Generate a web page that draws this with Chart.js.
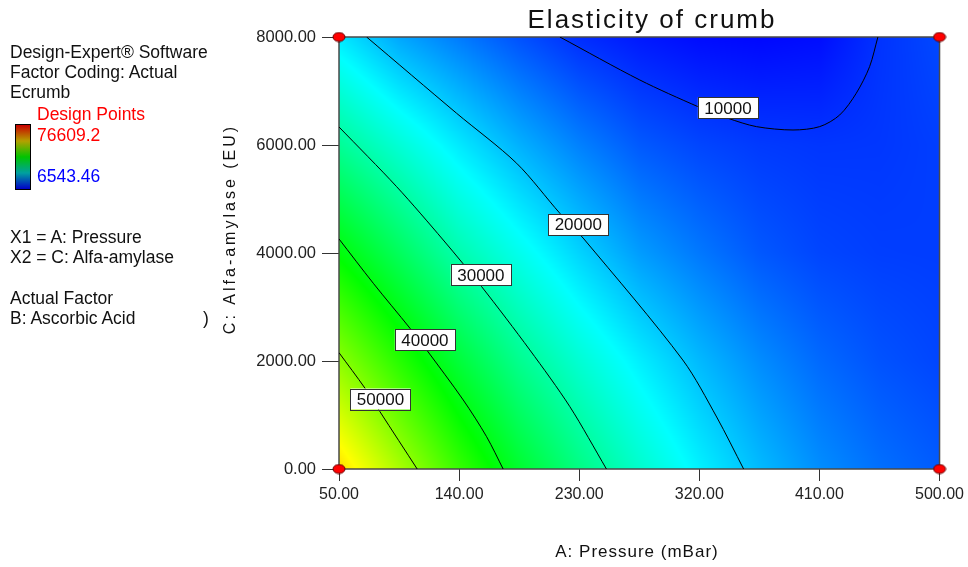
<!DOCTYPE html>
<html>
<head>
<meta charset="utf-8">
<script src="https://cdn.jsdelivr.net/npm/chart.js@4.4.1/dist/chart.umd.min.js"></script>
<style>
  body { margin: 0; background: #fff; }
  #wrap { position: relative; width: 968px; height: 567px; }
  #chart { position: absolute; left: 0; top: 0; }
  .t { position: absolute; font-family: "Liberation Sans", Arial, sans-serif; font-size: 17.5px; line-height: 20px; color: #111; white-space: nowrap; }
  .bar { position: absolute; left: 15px; top: 124px; width: 14px; height: 64px; border: 1px solid #000;
         background: linear-gradient(to bottom, #c80000, #b4a000 25%, #00c400 50%, #00a0a0 75%, #0000c8); }
</style>
</head>
<body>
<div id="wrap">
  <canvas id="chart" width="968" height="567"></canvas>
  <div class="t" style="left:10px;top:42px">Design-Expert® Software</div>
  <div class="t" style="left:10px;top:62px">Factor Coding: Actual</div>
  <div class="t" style="left:10px;top:82px">Ecrumb</div>
  <div class="t" style="left:37px;top:104px;color:#ff0000">Design Points</div>
  <div class="t" style="left:37px;top:125px;color:#ff0000">76609.2</div>
  <div class="t" style="left:37px;top:166px;color:#0000ff">6543.46</div>
  <div class="bar"></div>
  <div class="t" style="left:10px;top:227px">X1 = A: Pressure</div>
  <div class="t" style="left:10px;top:247px">X2 = C: Alfa-amylase</div>
  <div class="t" style="left:10px;top:288px">Actual Factor</div>
  <div class="t" style="left:10px;top:308px">B: Ascorbic Acid</div>
  <div class="t" style="left:203px;top:308px">)</div>
</div>
<script>
const family = '"Liberation Sans", Arial, sans-serif';

// axis ticks
const xTicks = [50, 140, 230, 320, 410, 500];
const yTicks = [0, 2000, 4000, 6000, 8000];

// response surface (Ecrumb at A / C grid nodes)
const gridA = [50, 95, 140, 185, 230, 275, 320, 365, 410, 455, 500];
const gridC = [0, 2000, 4000, 6000, 8000];
const gridE = [
  [61500, 53300, 45300, 38400, 32600, 27600, 23200, 19400, 16300, 14200, 12800],
  [51200, 44200, 37600, 31800, 27100, 23000, 19300, 16200, 13800, 12200, 11300],
  [41000, 35300, 29600, 25300, 21100, 17300, 14800, 12600, 11300, 10800, 10700],
  [31300, 26900, 22600, 18700, 15400, 12700, 11300, 10500, 10200, 10300, 10800],
  [22500, 18000, 15000, 12100,  9600,  8200,  7300,  7000,  7400, 10000, 11500]
];
const eMin = 6543.46;
const eMax = 76609.2;

// contour lines [A, C]
const levels = [10000, 20000, 30000, 40000, 50000];
const line10000 = [[215.5, 8000], [275.4, 7204], [319.0, 6710], [341.5, 6495], [362.8, 6340], [390.2, 6278],
                   [410.2, 6340], [425.2, 6556], [437.6, 6958], [447.6, 7451], [453.8, 8000]];
const line20000 = [[70.7, 8000], [138.1, 6588], [183.1, 5662], [215.5, 4735], [233.5, 4260],
                   [307.6, 2019], [333.0, 963], [353.2, 0]];
const line30000 = [[50, 6334], [93.2, 5228], [128.1, 4241], [156.9, 3376], [193.0, 2204], [223.0, 1154], [250.4, 0]];
const line40000 = [[50, 4260], [75.7, 3439], [103.2, 2606], [115.7, 2204], [143.1, 1278], [160.6, 598], [173.0, 0]];
const line50000 = [[50, 2154], [69.5, 1495], [80.7, 1061], [108.6, 0]];
const lines = [line10000, line20000, line30000, line40000, line50000];

// contour label positions
const labelA = [341.5, 229.3, 156.3, 114.4, 81.1];
const labelC = [6686, 4528, 3593, 2389, 1296];

// design points
const designA = [50, 50, 500, 500];
const designC = [0, 8000, 0, 8000];

const stops = [[0, 0, 0, 255], [0.25, 0, 255, 255], [0.5, 0, 255, 0], [0.75, 255, 255, 0], [1, 255, 0, 0]];
function colour(e) {
  let t = (e - eMin) / (eMax - eMin);
  t = Math.max(0, Math.min(1, t));
  for (let k = 1; k < stops.length; k++) {
    if (t <= stops[k][0]) {
      const a = stops[k - 1], b = stops[k];
      const f = (t - a[0]) / (b[0] - a[0]);
      return [a[1] + f * (b[1] - a[1]), a[2] + f * (b[2] - a[2]), a[3] + f * (b[3] - a[3])];
    }
  }
  return [255, 0, 0];
}

function seg(arr, v) {
  let i = 0;
  while (i < arr.length - 2 && v > arr[i + 1]) i++;
  return [i, (v - arr[i]) / (arr[i + 1] - arr[i])];
}

function surface(a, c) {
  const [i, fx] = seg(gridA, a);
  const [j, fy] = seg(gridC, c);
  const e00 = gridE[j][i], e10 = gridE[j][i + 1], e01 = gridE[j + 1][i], e11 = gridE[j + 1][i + 1];
  return (e00 * (1 - fx) + e10 * fx) * (1 - fy) + (e01 * (1 - fx) + e11 * fx) * fy;
}

const heatmap = {
  id: 'heatmap',
  beforeDatasetsDraw(chart) {
    const {ctx, chartArea: area, scales: {x, y}} = chart;
    const left = Math.round(area.left), top = Math.round(area.top);
    const w = Math.round(area.right) - left, h = Math.round(area.bottom) - top;
    const img = ctx.createImageData(w, h);
    for (let j = 0; j < h; j++) {
      const c = y.getValueForPixel(top + j + 0.5);
      for (let i = 0; i < w; i++) {
        const a = x.getValueForPixel(left + i + 0.5);
        const col = colour(surface(a, c));
        const p = (j * w + i) * 4;
        img.data[p] = col[0];
        img.data[p + 1] = col[1];
        img.data[p + 2] = col[2];
        img.data[p + 3] = 255;
      }
    }
    ctx.putImageData(img, left, top);
    ctx.save();
    ctx.strokeStyle = '#4a4a4a';
    ctx.lineWidth = 1.5;
    ctx.strokeRect(area.left, area.top, area.right - area.left, area.bottom - area.top);
    ctx.restore();
  }
};

const contourLabels = {
  id: 'contourLabels',
  afterDatasetsDraw(chart) {
    const {ctx, scales: {x, y}} = chart;
    ctx.save();
    ctx.font = '17px ' + family;
    ctx.textAlign = 'center';
    ctx.textBaseline = 'middle';
    levels.forEach((lv, k) => {
      const px = x.getPixelForValue(labelA[k]);
      const py = y.getPixelForValue(labelC[k]);
      const txt = String(lv);
      const w = ctx.measureText(txt).width + 13;
      const h = 21;
      ctx.fillStyle = '#fff';
      ctx.fillRect(px - w / 2, py - h / 2, w, h);
      ctx.strokeStyle = '#333';
      ctx.lineWidth = 1;
      ctx.strokeRect(Math.round(px - w / 2) + 0.5, Math.round(py - h / 2) + 0.5, Math.round(w), h);
      ctx.fillStyle = '#111';
      ctx.fillText(txt, px, py + 1);
    });
    ctx.restore();
  }
};

const titles = {
  id: 'titles',
  afterDraw(chart) {
    const ctx = chart.ctx;
    ctx.save();
    ctx.fillStyle = '#111';
    ctx.textAlign = 'center';
    ctx.textBaseline = 'alphabetic';
    ctx.letterSpacing = '2px';
    ctx.font = '26px ' + family;
    ctx.fillText('Elasticity of crumb', 652, 28);
    ctx.letterSpacing = '1px';
    ctx.font = '17px ' + family;
    ctx.fillText('A: Pressure (mBar)', 637, 557);
    ctx.letterSpacing = '3px';
    ctx.font = '16px ' + family;
    ctx.translate(235, 229);
    ctx.rotate(-Math.PI / 2);
    ctx.fillText('C: Alfa-amylase (EU)', 0, 0);
    ctx.restore();
  }
};

// ellipse marker for design points
const marker = document.createElement('canvas');
marker.width = 14;
marker.height = 11;
{
  const m = marker.getContext('2d');
  m.beginPath();
  m.ellipse(7, 5.5, 6, 4.5, 0, 0, Math.PI * 2);
  m.fillStyle = '#ff0000';
  m.fill();
  m.strokeStyle = '#600000';
  m.lineWidth = 1;
  m.stroke();
}

const datasets = levels.map((lv, k) => ({
  label: String(lv),
  data: lines[k].map(p => ({x: p[0], y: p[1]})),
  showLine: true,
  borderColor: '#000',
  borderWidth: 1,
  pointRadius: 0,
  tension: 0.3,
  order: 2
}));
datasets.push({
  label: 'Design Points',
  data: designA.map((a, i) => ({x: a, y: designC[i]})),
  pointStyle: marker,
  pointRadius: 6,
  clip: false,
  order: 0
});

new Chart(document.getElementById('chart'), {
  type: 'scatter',
  data: {datasets: datasets},
  options: {
    responsive: false,
    devicePixelRatio: 1,
    animation: false,
    layout: {padding: {left: 0, top: 37, right: 28, bottom: 0}},
    plugins: {legend: {display: false}, tooltip: {enabled: false}},
    scales: {
      x: {
        type: 'linear', min: 50, max: 500,
        afterBuildTicks: s => { s.ticks = xTicks.map(v => ({value: v})); },
        afterFit: s => { s.height = 98; },
        ticks: {callback: v => v.toFixed(2), font: {family: family, size: 16}, color: '#222', padding: 4, maxRotation: 0, autoSkip: false},
        grid: {drawOnChartArea: false, tickLength: 12, color: '#333'},
        border: {display: false}
      },
      y: {
        type: 'linear', min: 0, max: 8000,
        afterBuildTicks: s => { s.ticks = yTicks.map(v => ({value: v})); },
        afterFit: s => { s.width = 339; },
        ticks: {callback: v => v.toFixed(2), font: {family: family, size: 16.5}, color: '#222', padding: 6, autoSkip: false},
        grid: {drawOnChartArea: false, tickLength: 17, color: '#333'},
        border: {display: false}
      }
    }
  },
  plugins: [heatmap, contourLabels, titles]
});
</script>
</body>
</html>
